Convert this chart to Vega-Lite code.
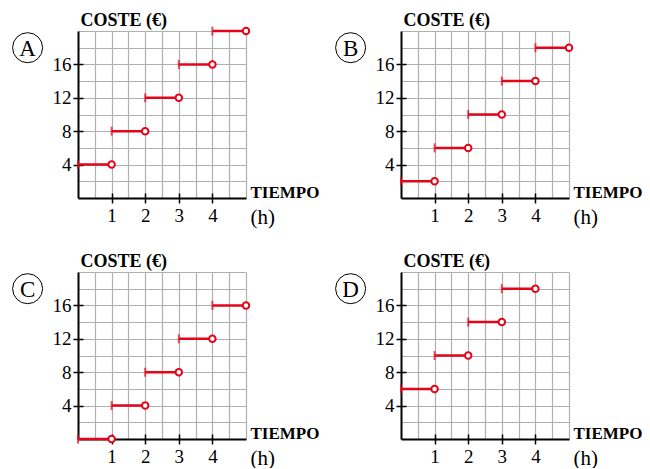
{
  "$schema": "https://vega.github.io/schema/vega-lite/v6.json",
  "padding": {"left": 10, "top": 11, "right": 0, "bottom": 0},
  "background": "white",
  "datasets": {
    "steps": [
      {"panel": "A", "x0": 0, "x1": 1, "y": 4},
      {"panel": "A", "x0": 1, "x1": 2, "y": 8},
      {"panel": "A", "x0": 2, "x1": 3, "y": 12},
      {"panel": "A", "x0": 3, "x1": 4, "y": 16},
      {"panel": "A", "x0": 4, "x1": 5, "y": 20},
      {"panel": "B", "x0": 0, "x1": 1, "y": 2},
      {"panel": "B", "x0": 1, "x1": 2, "y": 6},
      {"panel": "B", "x0": 2, "x1": 3, "y": 10},
      {"panel": "B", "x0": 3, "x1": 4, "y": 14},
      {"panel": "B", "x0": 4, "x1": 5, "y": 18},
      {"panel": "C", "x0": 0, "x1": 1, "y": 0},
      {"panel": "C", "x0": 1, "x1": 2, "y": 4},
      {"panel": "C", "x0": 2, "x1": 3, "y": 8},
      {"panel": "C", "x0": 3, "x1": 4, "y": 12},
      {"panel": "C", "x0": 4, "x1": 5, "y": 16},
      {"panel": "D", "x0": 0, "x1": 1, "y": 6},
      {"panel": "D", "x0": 1, "x1": 2, "y": 10},
      {"panel": "D", "x0": 2, "x1": 3, "y": 14},
      {"panel": "D", "x0": 3, "x1": 4, "y": 18}
    ],
    "panels": [
      {"panel": "A"}, {"panel": "B"}, {"panel": "C"}, {"panel": "D"}
    ]
  },
  "columns": 2,
  "bounds": "flush",
  "spacing": {"row": 74, "column": 155},
  "concat": [
    {
      "width": 168, "height": 167,
      "layer": [
        {"data": {"name": "steps"}, "transform": [{"filter": "datum.panel == 'A'"}],
         "mark": {"type": "rule", "color": "#e3061b", "strokeWidth": 2.5},
         "encoding": {
           "x": {"field": "x0", "type": "quantitative", "scale": {"domain": [0, 5], "nice": false, "zero": false},
                 "axis": {"orient": "bottom", "values": [0.5, 1, 1.5, 2, 2.5, 3, 3.5, 4, 4.5, 5], "grid": true, "labels": false, "ticks": false, "domain": false,
                          "title": "(h)", "titleX": 172, "titleY": 25, "titleFontSize": 21, "titleFontWeight": "normal"}},
           "x2": {"field": "x1"},
           "y": {"field": "y", "type": "quantitative", "scale": {"domain": [0, 20], "nice": false, "zero": false},
                 "axis": {"orient": "left", "values": [2, 4, 6, 8, 10, 12, 14, 16, 18, 20], "grid": true, "labels": false, "ticks": false, "domain": false, "title": null}}
         }},
        {"data": {"name": "steps"}, "transform": [{"filter": "datum.panel == 'A'"}],
         "mark": {"type": "tick", "orient": "vertical", "color": "#e3061b", "thickness": 2, "size": 9},
         "encoding": {
           "x": {"field": "x0", "type": "quantitative", "scale": {"domain": [0, 5], "nice": false, "zero": false},
                 "axis": {"orient": "bottom", "values": [1, 2, 3, 4], "grid": false, "labelPadding": 3,
                          "title": "TIEMPO", "titleX": 172, "titleY": -1}},
           "y": {"field": "y", "type": "quantitative", "scale": {"domain": [0, 20], "nice": false, "zero": false},
                 "axis": {"orient": "left", "values": [4, 8, 12, 16], "grid": false, "labelPadding": 2,
                          "title": "COSTE (€)", "titleX": 2, "titleY": -6, "titleFontSize": 18}}
         }},
        {"data": {"name": "steps"}, "transform": [{"filter": "datum.panel == 'A'"}],
         "mark": {"type": "point", "shape": "circle", "fill": "white", "stroke": "#e3061b", "strokeWidth": 2, "size": 42, "opacity": 1},
         "encoding": {
           "x": {"field": "x1", "type": "quantitative", "scale": {"domain": [0, 5], "nice": false, "zero": false},
                 "axis": {"orient": "bottom", "values": [1, 2, 3, 4], "grid": false, "labels": false, "domain": false, "tickSize": -5, "title": null}},
           "y": {"field": "y", "type": "quantitative", "scale": {"domain": [0, 20], "nice": false, "zero": false},
                 "axis": {"orient": "left", "values": [4, 8, 12, 16], "grid": false, "labels": false, "domain": false, "tickSize": -5, "title": null}}
         }},
        {"data": {"name": "panels"}, "transform": [{"filter": "datum.panel == 'A'"}],
         "mark": {"type": "point", "shape": "circle", "filled": false, "stroke": "black", "strokeWidth": 1, "size": 900, "opacity": 1},
         "encoding": {
           "x": {"datum": -1.5, "type": "quantitative", "scale": {"domain": [0, 5], "nice": false, "zero": false}, "axis": null},
           "y": {"datum": 18, "type": "quantitative", "scale": {"domain": [0, 20], "nice": false, "zero": false}, "axis": null}
         }},
        {"data": {"name": "panels"}, "transform": [{"filter": "datum.panel == 'A'"}],
         "mark": {"type": "text", "fontSize": 23, "align": "center", "baseline": "middle", "dy": 1, "color": "black"},
         "encoding": {
           "x": {"datum": -1.5, "type": "quantitative", "scale": {"domain": [0, 5], "nice": false, "zero": false}, "axis": null},
           "y": {"datum": 18, "type": "quantitative", "scale": {"domain": [0, 20], "nice": false, "zero": false}, "axis": null},
           "text": {"field": "panel"}
         }}
      ],
      "resolve": {"axis": {"x": "independent", "y": "independent"}}
    },
    {
      "width": 168, "height": 167,
      "layer": [
        {"data": {"name": "steps"}, "transform": [{"filter": "datum.panel == 'B'"}],
         "mark": {"type": "rule", "color": "#e3061b", "strokeWidth": 2.5},
         "encoding": {
           "x": {"field": "x0", "type": "quantitative", "scale": {"domain": [0, 5], "nice": false, "zero": false},
                 "axis": {"orient": "bottom", "values": [0.5, 1, 1.5, 2, 2.5, 3, 3.5, 4, 4.5, 5], "grid": true, "labels": false, "ticks": false, "domain": false,
                          "title": "(h)", "titleX": 172, "titleY": 25, "titleFontSize": 21, "titleFontWeight": "normal"}},
           "x2": {"field": "x1"},
           "y": {"field": "y", "type": "quantitative", "scale": {"domain": [0, 20], "nice": false, "zero": false},
                 "axis": {"orient": "left", "values": [2, 4, 6, 8, 10, 12, 14, 16, 18, 20], "grid": true, "labels": false, "ticks": false, "domain": false, "title": null}}
         }},
        {"data": {"name": "steps"}, "transform": [{"filter": "datum.panel == 'B'"}],
         "mark": {"type": "tick", "orient": "vertical", "color": "#e3061b", "thickness": 2, "size": 9},
         "encoding": {
           "x": {"field": "x0", "type": "quantitative", "scale": {"domain": [0, 5], "nice": false, "zero": false},
                 "axis": {"orient": "bottom", "values": [1, 2, 3, 4], "grid": false, "labelPadding": 3,
                          "title": "TIEMPO", "titleX": 172, "titleY": -1}},
           "y": {"field": "y", "type": "quantitative", "scale": {"domain": [0, 20], "nice": false, "zero": false},
                 "axis": {"orient": "left", "values": [4, 8, 12, 16], "grid": false, "labelPadding": 2,
                          "title": "COSTE (€)", "titleX": 2, "titleY": -6, "titleFontSize": 18}}
         }},
        {"data": {"name": "steps"}, "transform": [{"filter": "datum.panel == 'B'"}],
         "mark": {"type": "point", "shape": "circle", "fill": "white", "stroke": "#e3061b", "strokeWidth": 2, "size": 42, "opacity": 1},
         "encoding": {
           "x": {"field": "x1", "type": "quantitative", "scale": {"domain": [0, 5], "nice": false, "zero": false},
                 "axis": {"orient": "bottom", "values": [1, 2, 3, 4], "grid": false, "labels": false, "domain": false, "tickSize": -5, "title": null}},
           "y": {"field": "y", "type": "quantitative", "scale": {"domain": [0, 20], "nice": false, "zero": false},
                 "axis": {"orient": "left", "values": [4, 8, 12, 16], "grid": false, "labels": false, "domain": false, "tickSize": -5, "title": null}}
         }},
        {"data": {"name": "panels"}, "transform": [{"filter": "datum.panel == 'B'"}],
         "mark": {"type": "point", "shape": "circle", "filled": false, "stroke": "black", "strokeWidth": 1, "size": 900, "opacity": 1},
         "encoding": {
           "x": {"datum": -1.5, "type": "quantitative", "scale": {"domain": [0, 5], "nice": false, "zero": false}, "axis": null},
           "y": {"datum": 18, "type": "quantitative", "scale": {"domain": [0, 20], "nice": false, "zero": false}, "axis": null}
         }},
        {"data": {"name": "panels"}, "transform": [{"filter": "datum.panel == 'B'"}],
         "mark": {"type": "text", "fontSize": 23, "align": "center", "baseline": "middle", "dy": 1, "color": "black"},
         "encoding": {
           "x": {"datum": -1.5, "type": "quantitative", "scale": {"domain": [0, 5], "nice": false, "zero": false}, "axis": null},
           "y": {"datum": 18, "type": "quantitative", "scale": {"domain": [0, 20], "nice": false, "zero": false}, "axis": null},
           "text": {"field": "panel"}
         }}
      ],
      "resolve": {"axis": {"x": "independent", "y": "independent"}}
    },
    {
      "width": 168, "height": 167,
      "layer": [
        {"data": {"name": "steps"}, "transform": [{"filter": "datum.panel == 'C'"}],
         "mark": {"type": "rule", "color": "#e3061b", "strokeWidth": 2.5},
         "encoding": {
           "x": {"field": "x0", "type": "quantitative", "scale": {"domain": [0, 5], "nice": false, "zero": false},
                 "axis": {"orient": "bottom", "values": [0.5, 1, 1.5, 2, 2.5, 3, 3.5, 4, 4.5, 5], "grid": true, "labels": false, "ticks": false, "domain": false,
                          "title": "(h)", "titleX": 172, "titleY": 25, "titleFontSize": 21, "titleFontWeight": "normal"}},
           "x2": {"field": "x1"},
           "y": {"field": "y", "type": "quantitative", "scale": {"domain": [0, 20], "nice": false, "zero": false},
                 "axis": {"orient": "left", "values": [2, 4, 6, 8, 10, 12, 14, 16, 18, 20], "grid": true, "labels": false, "ticks": false, "domain": false, "title": null}}
         }},
        {"data": {"name": "steps"}, "transform": [{"filter": "datum.panel == 'C'"}],
         "mark": {"type": "tick", "orient": "vertical", "color": "#e3061b", "thickness": 2, "size": 9},
         "encoding": {
           "x": {"field": "x0", "type": "quantitative", "scale": {"domain": [0, 5], "nice": false, "zero": false},
                 "axis": {"orient": "bottom", "values": [1, 2, 3, 4], "grid": false, "labelPadding": 3,
                          "title": "TIEMPO", "titleX": 172, "titleY": -1}},
           "y": {"field": "y", "type": "quantitative", "scale": {"domain": [0, 20], "nice": false, "zero": false},
                 "axis": {"orient": "left", "values": [4, 8, 12, 16], "grid": false, "labelPadding": 2,
                          "title": "COSTE (€)", "titleX": 2, "titleY": -6, "titleFontSize": 18}}
         }},
        {"data": {"name": "steps"}, "transform": [{"filter": "datum.panel == 'C'"}],
         "mark": {"type": "point", "shape": "circle", "fill": "white", "stroke": "#e3061b", "strokeWidth": 2, "size": 42, "opacity": 1},
         "encoding": {
           "x": {"field": "x1", "type": "quantitative", "scale": {"domain": [0, 5], "nice": false, "zero": false},
                 "axis": {"orient": "bottom", "values": [1, 2, 3, 4], "grid": false, "labels": false, "domain": false, "tickSize": -5, "title": null}},
           "y": {"field": "y", "type": "quantitative", "scale": {"domain": [0, 20], "nice": false, "zero": false},
                 "axis": {"orient": "left", "values": [4, 8, 12, 16], "grid": false, "labels": false, "domain": false, "tickSize": -5, "title": null}}
         }},
        {"data": {"name": "panels"}, "transform": [{"filter": "datum.panel == 'C'"}],
         "mark": {"type": "point", "shape": "circle", "filled": false, "stroke": "black", "strokeWidth": 1, "size": 900, "opacity": 1},
         "encoding": {
           "x": {"datum": -1.5, "type": "quantitative", "scale": {"domain": [0, 5], "nice": false, "zero": false}, "axis": null},
           "y": {"datum": 18, "type": "quantitative", "scale": {"domain": [0, 20], "nice": false, "zero": false}, "axis": null}
         }},
        {"data": {"name": "panels"}, "transform": [{"filter": "datum.panel == 'C'"}],
         "mark": {"type": "text", "fontSize": 23, "align": "center", "baseline": "middle", "dy": 1, "color": "black"},
         "encoding": {
           "x": {"datum": -1.5, "type": "quantitative", "scale": {"domain": [0, 5], "nice": false, "zero": false}, "axis": null},
           "y": {"datum": 18, "type": "quantitative", "scale": {"domain": [0, 20], "nice": false, "zero": false}, "axis": null},
           "text": {"field": "panel"}
         }}
      ],
      "resolve": {"axis": {"x": "independent", "y": "independent"}}
    },
    {
      "width": 168, "height": 167,
      "layer": [
        {"data": {"name": "steps"}, "transform": [{"filter": "datum.panel == 'D'"}],
         "mark": {"type": "rule", "color": "#e3061b", "strokeWidth": 2.5},
         "encoding": {
           "x": {"field": "x0", "type": "quantitative", "scale": {"domain": [0, 5], "nice": false, "zero": false},
                 "axis": {"orient": "bottom", "values": [0.5, 1, 1.5, 2, 2.5, 3, 3.5, 4, 4.5, 5], "grid": true, "labels": false, "ticks": false, "domain": false,
                          "title": "(h)", "titleX": 172, "titleY": 25, "titleFontSize": 21, "titleFontWeight": "normal"}},
           "x2": {"field": "x1"},
           "y": {"field": "y", "type": "quantitative", "scale": {"domain": [0, 20], "nice": false, "zero": false},
                 "axis": {"orient": "left", "values": [2, 4, 6, 8, 10, 12, 14, 16, 18, 20], "grid": true, "labels": false, "ticks": false, "domain": false, "title": null}}
         }},
        {"data": {"name": "steps"}, "transform": [{"filter": "datum.panel == 'D'"}],
         "mark": {"type": "tick", "orient": "vertical", "color": "#e3061b", "thickness": 2, "size": 9},
         "encoding": {
           "x": {"field": "x0", "type": "quantitative", "scale": {"domain": [0, 5], "nice": false, "zero": false},
                 "axis": {"orient": "bottom", "values": [1, 2, 3, 4], "grid": false, "labelPadding": 3,
                          "title": "TIEMPO", "titleX": 172, "titleY": -1}},
           "y": {"field": "y", "type": "quantitative", "scale": {"domain": [0, 20], "nice": false, "zero": false},
                 "axis": {"orient": "left", "values": [4, 8, 12, 16], "grid": false, "labelPadding": 2,
                          "title": "COSTE (€)", "titleX": 2, "titleY": -6, "titleFontSize": 18}}
         }},
        {"data": {"name": "steps"}, "transform": [{"filter": "datum.panel == 'D'"}],
         "mark": {"type": "point", "shape": "circle", "fill": "white", "stroke": "#e3061b", "strokeWidth": 2, "size": 42, "opacity": 1},
         "encoding": {
           "x": {"field": "x1", "type": "quantitative", "scale": {"domain": [0, 5], "nice": false, "zero": false},
                 "axis": {"orient": "bottom", "values": [1, 2, 3, 4], "grid": false, "labels": false, "domain": false, "tickSize": -5, "title": null}},
           "y": {"field": "y", "type": "quantitative", "scale": {"domain": [0, 20], "nice": false, "zero": false},
                 "axis": {"orient": "left", "values": [4, 8, 12, 16], "grid": false, "labels": false, "domain": false, "tickSize": -5, "title": null}}
         }},
        {"data": {"name": "panels"}, "transform": [{"filter": "datum.panel == 'D'"}],
         "mark": {"type": "point", "shape": "circle", "filled": false, "stroke": "black", "strokeWidth": 1, "size": 900, "opacity": 1},
         "encoding": {
           "x": {"datum": -1.5, "type": "quantitative", "scale": {"domain": [0, 5], "nice": false, "zero": false}, "axis": null},
           "y": {"datum": 18, "type": "quantitative", "scale": {"domain": [0, 20], "nice": false, "zero": false}, "axis": null}
         }},
        {"data": {"name": "panels"}, "transform": [{"filter": "datum.panel == 'D'"}],
         "mark": {"type": "text", "fontSize": 23, "align": "center", "baseline": "middle", "dy": 1, "color": "black"},
         "encoding": {
           "x": {"datum": -1.5, "type": "quantitative", "scale": {"domain": [0, 5], "nice": false, "zero": false}, "axis": null},
           "y": {"datum": 18, "type": "quantitative", "scale": {"domain": [0, 20], "nice": false, "zero": false}, "axis": null},
           "text": {"field": "panel"}
         }}
      ],
      "resolve": {"axis": {"x": "independent", "y": "independent"}}
    }
  ],
  "config": {
    "view": {"stroke": null},
    "font": "Liberation Serif, Times New Roman, serif",
    "text": {"font": "Liberation Serif, Times New Roman, serif"},
    "axis": {
      "labelFont": "Liberation Serif, Times New Roman, serif",
      "titleFont": "Liberation Serif, Times New Roman, serif",
      "labelFontSize": 19,
      "labelColor": "black",
      "titleColor": "black",
      "titleFontSize": 17,
      "titleFontWeight": "bold",
      "titleAngle": 0,
      "titleAlign": "left",
      "titleBaseline": "alphabetic",
      "labelFlush": false,
      "tickSize": 5,
      "tickWidth": 1.5,
      "tickColor": "black",
      "domainColor": "black",
      "domainWidth": 2,
      "gridColor": "#b0b0b0",
      "gridWidth": 1.2
    }
  }
}
